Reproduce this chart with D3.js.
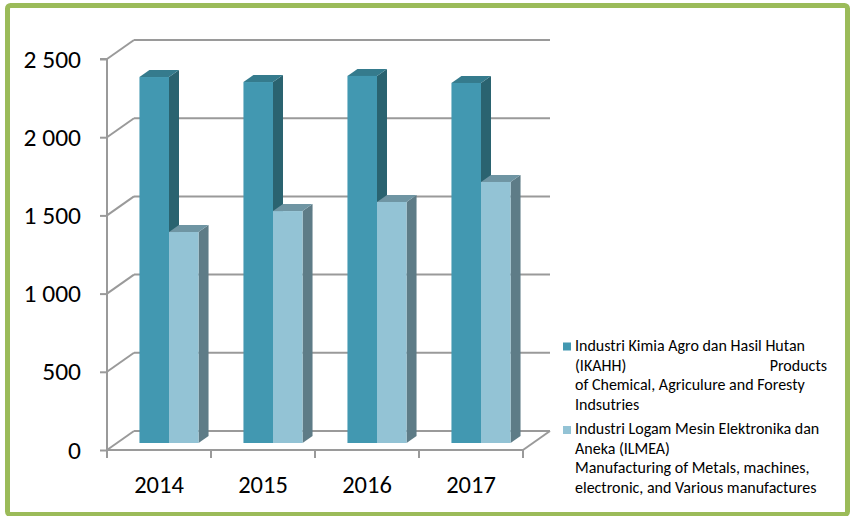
<!DOCTYPE html>
<html>
<head>
<meta charset="utf-8">
<script src="https://cdn.jsdelivr.net/npm/d3@7"></script>
<style>
  html, body { margin: 0; padding: 0; background: #fff; }
  svg { display: block; font-family: Carlito, Lato, "Open Sans", sans-serif; }
</style>
</head>
<body>
<svg id="chart" width="850" height="516"></svg>
<script>
const years = ["2014", "2015", "2016", "2017"];
const seriesNames = ["IKAHH", "ILMEA"];
const ikahh = [2340, 2308, 2347, 2302];
const ilmea = [1349, 1483, 1541, 1669];
const yTicks = [0, 500, 1000, 1500, 2000, 2500];
const yTickLabels = ["0", "500", "1 000", "1 500", "2 000", "2 500"];
const legendLines1 = ["Industri Kimia Agro dan Hasil Hutan", "(IKAHH)", "of Chemical, Agriculure and Foresty", "Indsutries"];
const legendRight1 = "Products";
const legendLines2 = ["Industri Logam Mesin Elektronika dan", "Aneka (ILMEA)", "Manufacturing of Metals, machines,", "electronic, and Various manufactures"];

const colors = {
  IKAHH: { front: "#4298b1", side: "#2a6370", top: "#357b8d" },
  ILMEA: { front: "#93c3d5", side: "#5e7c87", top: "#6f95a3" }
};

const svg = d3.select("#chart");

// Frame
svg.append("rect")
  .attr("x", 7.5).attr("y", 5.5).attr("width", 840).attr("height", 509)
  .attr("rx", 3)
  .attr("fill", "#fff").attr("stroke", "#9bbb59").attr("stroke-width", 5);

// Scales (front plane)
const x = d3.scaleBand().domain(years).range([107, 523]).padding(0);
const y = d3.scaleLinear().domain([0, 2500]).range([450, 59]);
const inner = d3.scaleBand().domain(seriesNames).range([0, x.bandwidth()]).paddingInner(0).paddingOuter(0.76);

const DX = 27, DY = -19;          // full depth of the plot box
const BX = 10, BY = -7;           // offset of bar front plane
const BDX = 10, BDY = -7;         // bar depth

const gridColor = "#9a9a9a";
const g = svg.append("g");

// Back wall gridlines and left wall diagonals
yTicks.forEach(v => {
  g.append("line")
    .attr("x1", x.range()[0] + DX).attr("x2", x.range()[1] + DX)
    .attr("y1", y(v) + DY).attr("y2", y(v) + DY)
    .attr("stroke", gridColor).attr("stroke-width", 2);
  g.append("line")
    .attr("x1", x.range()[0]).attr("y1", y(v))
    .attr("x2", x.range()[0] + DX).attr("y2", y(v) + DY)
    .attr("stroke", gridColor).attr("stroke-width", 2);
});
// Right floor diagonal
g.append("line")
  .attr("x1", x.range()[1]).attr("y1", y(0))
  .attr("x2", x.range()[1] + DX).attr("y2", y(0) + DY)
  .attr("stroke", gridColor).attr("stroke-width", 2);

// Front axes
const yAxis = d3.axisLeft(y).tickValues(yTicks).tickSize(7).tickPadding(19)
  .tickFormat((d, i) => yTickLabels[i]);
const yG = svg.append("g").attr("transform", `translate(${x.range()[0]},0)`).call(yAxis);
yG.select(".domain").attr("stroke", gridColor).attr("stroke-width", 2).attr("d", `M-7,${y(2500)}H0V${y(0)}`);
yG.selectAll(".tick line").attr("stroke", gridColor).attr("stroke-width", 2);
yG.selectAll(".tick text").attr("font-size", 25.5).attr("fill", "#000")
  .attr("font-family", "Carlito, Lato, sans-serif");

const xAxis = d3.axisBottom(x).tickSize(0).tickPadding(26);
const xG = svg.append("g").attr("transform", `translate(0,${y(0)})`).call(xAxis);
xG.select(".domain").attr("stroke", gridColor).attr("stroke-width", 2).attr("d", `M${x.range()[0]},0H${x.range()[1]}`);
xG.selectAll(".tick text").attr("font-size", 24.5).attr("fill", "#000")
  .attr("font-family", "Carlito, Lato, sans-serif");
// category boundary ticks
const bounds = years.map(d => x(d)).concat([x.range()[1]]);
xG.selectAll(".bound").data(bounds).enter().append("line")
  .attr("x1", d => d).attr("x2", d => d).attr("y1", 0).attr("y2", 8)
  .attr("stroke", gridColor).attr("stroke-width", 2);

// Bars
const data = [];
years.forEach((yr, i) => {
  data.push({ year: yr, s: "IKAHH", v: ikahh[i] });
  data.push({ year: yr, s: "ILMEA", v: ilmea[i] });
});

const barsG = svg.append("g");
data.forEach(d => {
  const x0 = x(d.year) + inner(d.s) + BX;
  const x1 = x0 + inner.bandwidth();
  const yT = y(d.v) + BY;
  const yB = y(0) + BY;
  const c = colors[d.s];
  // side
  barsG.append("polygon")
    .attr("points", [[x1, yT], [x1 + BDX, yT + BDY], [x1 + BDX, yB + BDY], [x1, yB]].map(p => p.join(",")).join(" "))
    .attr("fill", c.side);
  // top
  barsG.append("polygon")
    .attr("points", [[x0, yT], [x0 + BDX, yT + BDY], [x1 + BDX, yT + BDY], [x1, yT]].map(p => p.join(",")).join(" "))
    .attr("fill", c.top);
  // front
  barsG.append("rect")
    .attr("x", x0).attr("y", yT).attr("width", x1 - x0).attr("height", yB - yT)
    .attr("fill", c.front);
});

// Legend
const lg = svg.append("g").attr("font-size", 16).attr("fill", "#000")
  .attr("font-family", "Carlito, Lato, sans-serif");
const lx = 575, lh = 19.6;
lg.append("rect").attr("x", 563).attr("y", 342.5).attr("width", 8).attr("height", 8).attr("fill", colors.IKAHH.front);
legendLines1.forEach((t, i) => {
  lg.append("text").attr("x", lx).attr("y", 351 + i * lh).text(t);
});
lg.append("text").attr("x", 827).attr("y", 351 + lh).attr("text-anchor", "end").text(legendRight1);
lg.append("rect").attr("x", 563).attr("y", 426).attr("width", 8).attr("height", 8).attr("fill", colors.ILMEA.front);
legendLines2.forEach((t, i) => {
  lg.append("text").attr("x", lx).attr("y", 434 + i * lh).text(t);
});
</script>
</body>
</html>
